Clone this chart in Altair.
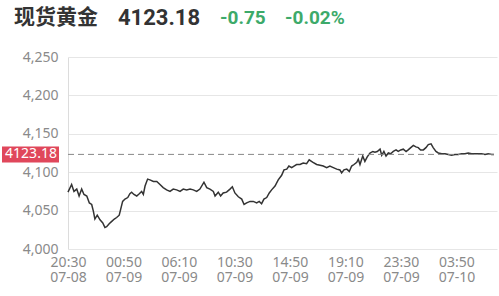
import json
import altair as alt
import pandas as pd

# trading-minute offsets from 20:30 07-08 and gold prices
minutes = [0, 17, 28, 41, 52, 64, 75, 88, 100, 111, 119, 126, 137, 150, 163, 173, 181, 193,
           205, 217, 228, 240, 247, 256, 267, 280, 290, 298, 309, 322, 334, 345, 353, 361,
           373, 384, 400, 416, 431, 446, 462, 478, 493, 509, 525, 540, 556, 572, 587, 603,
           618, 637, 650, 665, 681, 689, 704, 715, 727, 743, 759, 770, 782, 798, 814, 825,
           837, 853, 868, 884, 896, 907, 918, 931, 943, 954, 970, 985, 1001, 1012, 1025,
           1035, 1048, 1059, 1071, 1087, 1102, 1118, 1130, 1146, 1165, 1181, 1196, 1212,
           1227, 1243, 1259, 1274, 1282, 1293, 1306, 1318, 1329, 1340, 1353, 1360, 1368,
           1381, 1391, 1402, 1415, 1428, 1438, 1449, 1462, 1470, 1480, 1490, 1501, 1512,
           1524, 1537, 1547, 1559, 1571, 1584, 1594, 1606, 1618, 1630, 1641, 1652, 1665,
           1677, 1688, 1701, 1711, 1724, 1735, 1751, 1766, 1782, 1797, 1813, 1829, 1844,
           1860, 1875, 1891, 1907, 1922, 1938, 1954, 1969, 1985, 1996]
prices = [4074, 4084, 4075, 4078, 4069, 4078, 4071, 4069, 4060, 4058, 4049, 4039, 4044,
          4038, 4034, 4028, 4029, 4033, 4036, 4039, 4041, 4044, 4052, 4062, 4065, 4067,
          4072, 4074, 4071, 4069, 4072, 4075, 4071, 4082, 4091, 4090, 4088, 4088, 4084,
          4080, 4077, 4075, 4078, 4077, 4075, 4078, 4077, 4078, 4077, 4075, 4078, 4087,
          4080, 4078, 4075, 4069, 4074, 4069, 4073, 4074, 4078, 4081, 4073, 4068, 4065,
          4058, 4060, 4062, 4062, 4060, 4062, 4059, 4065, 4067, 4073, 4077, 4082, 4090,
          4096, 4103, 4104, 4108, 4106, 4108, 4110, 4110, 4112, 4111, 4116, 4113, 4110,
          4109, 4108, 4106, 4108, 4106, 4104, 4103, 4099, 4103, 4104, 4101, 4108, 4110,
          4113, 4117, 4110, 4121, 4114, 4120, 4125, 4127, 4126, 4127, 4130, 4122, 4127,
          4121, 4125, 4124, 4127, 4129, 4127, 4129, 4130, 4127, 4129, 4132, 4135, 4133,
          4132, 4129, 4129, 4132, 4136, 4137, 4132, 4127, 4125, 4124, 4124, 4123, 4122,
          4123, 4123, 4124, 4124, 4125, 4124, 4124, 4124, 4124, 4123, 4124, 4123, 4123.18]

tick_minutes = [0, 260, 520, 780, 1040, 1300, 1560, 1820]
tick_labels = ["20:30\n07-08", "00:50\n07-09", "06:10\n07-09", "10:30\n07-09",
               "14:50\n07-09", "19:10\n07-09", "23:30\n07-09", "03:50\n07-10"]
y_ticks = [4000, 4050, 4100, 4150, 4200, 4250]

name = "现货黄金"
last_price = 4123.18
change = "-0.75"
change_pct = "-0.02%"

df = pd.DataFrame({"m": minutes, "p": prices})
ref = pd.DataFrame({"p": [last_price], "lo": [last_price - 10.4], "hi": [last_price + 10.4],
                    "t": [f"{last_price:.2f}"]})

label_expr = "split(" + json.dumps(tick_labels) + "[round(datum.value/260)], '\\n')"

yscale = alt.Scale(domain=[4000, 4250], nice=False, zero=False)
yaxis = alt.Axis(values=y_ticks, format=",.0f", title=None, domain=True,
                 domainColor="#dcdcdc", ticks=False, gridColor="#e6e6e6",
                 labelColor="#8a8a8a", labelFontSize=14, labelFont="Noto Sans",
                 labelPadding=10)

x = alt.X("m:Q", scale=alt.Scale(domain=[0, 2010], nice=False, zero=False),
          axis=alt.Axis(values=tick_minutes, labelExpr=label_expr, title=None, domain=False,
                        ticks=False, grid=False, labelColor="#8a8a8a", labelFontSize=14,
                        labelFont="Noto Sans", labelPadding=6, labelLineHeight=15,
                        labelBaseline="top", labelOverlap=False, labelFlush=False))

line = alt.Chart(df).mark_line(color="#333333", strokeWidth=1.5).encode(
    x=x, y=alt.Y("p:Q", scale=yscale, axis=yaxis))

rule = alt.Chart(ref).mark_rule(color="#888888", strokeDash=[6, 4], strokeWidth=1).encode(
    y=alt.Y("p:Q", scale=yscale, axis=yaxis), x=alt.value(0), x2=alt.value(429))

tag = alt.Chart(ref).mark_rect(color="#e0475b").encode(
    y=alt.Y("lo:Q", scale=yscale, axis=yaxis), y2="hi:Q",
    x=alt.value(-66), x2=alt.value(-9))
tag_text = alt.Chart(ref).mark_text(color="white", fontSize=14, font="Noto Sans",
                                    align="center", baseline="middle").encode(
    y=alt.Y("p:Q", scale=yscale, axis=yaxis), x=alt.value(-37), text="t:N")

def head(txt, xpos, color, size, font="Noto Sans CJK SC"):
    return alt.Chart(ref).mark_text(text=txt, color=color, fontSize=size, font=font,
                                    fontWeight="bold", align="left",
                                    baseline="middle").encode(
        x=alt.value(xpos), y=alt.value(-39))

titles = (head(name, -54, "#333333", 21)
          + head(f"{last_price:.2f}", 50, "#333333", 22, "Roboto")
          + head(change, 152, "#3daa6a", 19, "Roboto")
          + head(change_pct, 217, "#3daa6a", 19, "Roboto"))

chart = alt.layer(line, rule, tag, tag_text, titles).properties(
    width=429, height=192,
    autosize=alt.AutoSizeParams(type="none"),
    padding={"left": 68, "top": 57, "right": 2, "bottom": 47},
).configure_view(stroke=None)

chart.save("out.html", embed_options={"renderer": "svg", "actions": False})
